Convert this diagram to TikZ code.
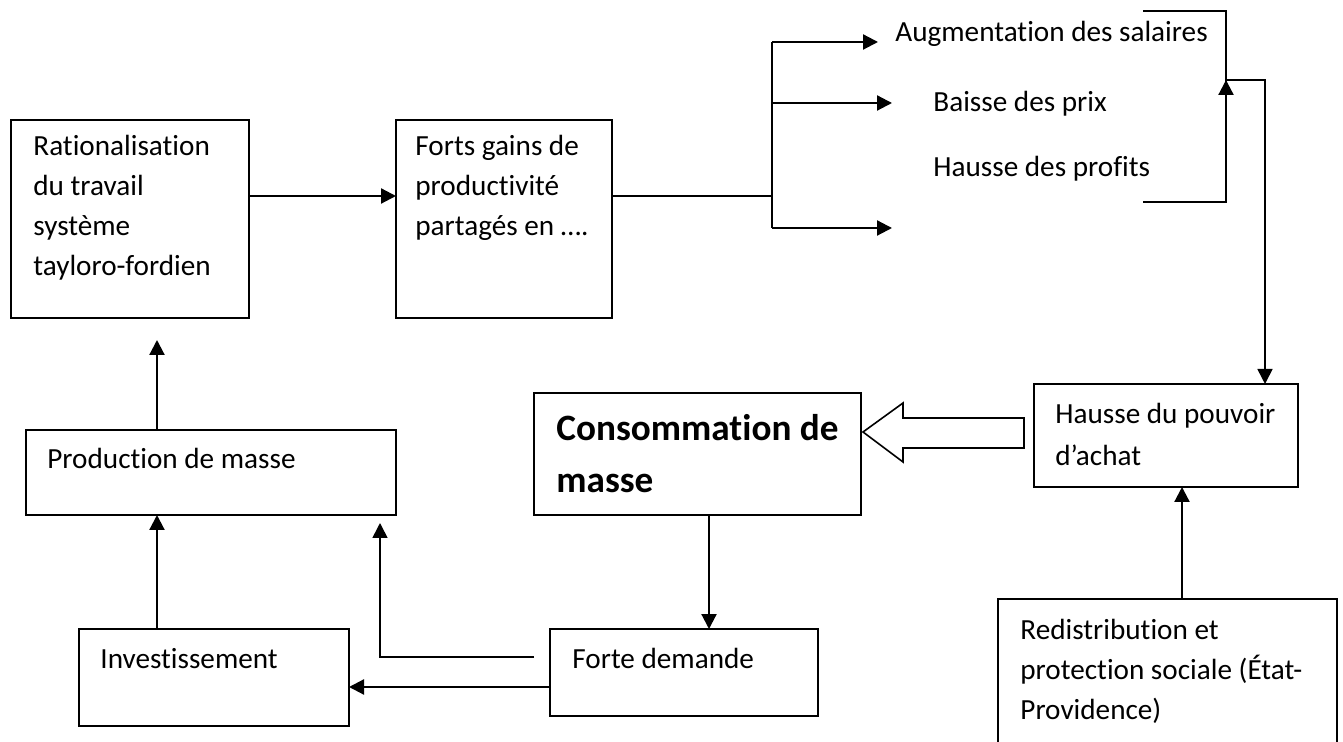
\documentclass[tikz,border=0pt]{standalone}
\usepackage{fontspec}
\setmainfont{Carlito}[Ligatures=NoCommon]
\usetikzlibrary{calc,arrows.meta}
\tikzset{
  box/.style={draw, line width=0.8pt, anchor=north west, inner sep=0pt, outer sep=0pt},
  txt/.style={anchor=base west, inner sep=0pt, align=left,
    font=\fontsize{14.6pt}{20pt}\selectfont},
  bigtxt/.style={txt, font=\bfseries\fontsize{18.6pt}{26pt}\selectfont},
  arr/.style={line width=1.1pt, -{Triangle[length=7.5pt,width=7.5pt]}},
  wire/.style={line width=1.1pt}
}

\begin{document}
\begin{tikzpicture}[x=0.5pt,y=-0.5pt]
  \clip (0,0) rectangle (1343,742);

  % boxes
  \node
  [box, minimum width=119pt, minimum height=99pt]
  (rat) at (11,120) {};

  \node
  [box, minimum width=108pt, minimum height=99pt]
  (gains) at (396,120) {};

  \node
  [box, minimum width=185pt, minimum height=42.5pt]
  (prod) at (26,430) {};

  \node
  [box, minimum width=135pt, minimum height=48.5pt]
  (inv) at (79,629) {};

  \node
  [box, minimum width=163.5pt, minimum height=61pt]
  (cons) at (534,393) {};

  \node
  [box, minimum width=134pt, minimum height=43.5pt]
  (forte) at (550,629) {};

  \node
  [box, minimum width=132pt, minimum height=51.5pt]
  (hausse) at (1034,384) {};

  \node
  [box, minimum width=169.5pt, minimum height=80.5pt]
  (redis) at (998,599) {};

  % texts (placed at the baseline of their last line)
  \node
  [txt]
  (rat-t) at (33,276) {Rationalisation\\du travail\\système\\tayloro-fordien};

  \node
  [txt]
  (gains-t) at (415,236) {Forts gains de\\productivité\\partagés en ….};

  \node
  [txt]
  (prod-t) at (47,469) {Production de masse};

  \node
  [txt]
  (inv-t) at (100,668) {Investissement};

  \node
  [bigtxt]
  (cons-t) at (556,493) {Consommation de\\masse};

  \node
  [txt]
  (forte-t) at (572,668) {Forte demande};

  \node
  [txt, font=\fontsize{14.6pt}{21pt}\selectfont]
  (hausse-t) at (1055,466) {Hausse du pouvoir\\d’achat};

  \node
  [txt]
  (redis-t) at (1020,719) {Redistribution et\\protection sociale (État-\\Providence)};

  \node
  [txt]
  (aug) at (895,42) {Augmentation des salaires};

  \node
  [txt]
  (baisse) at (933,112) {Baisse des prix};

  \node
  [txt]
  (profits) at (933,177) {Hausse des profits};

  % free ends
  \coordinate (split) at (772,196);
  \coordinate (fork1) at (772,42);
  \coordinate (fork3) at (772,228);
  \coordinate (tip1) at (878,42);
  \coordinate (tip2) at (892,103);
  \coordinate (tip3) at (892,228);
  \coordinate (brtop) at (1143,11);
  \coordinate (brbot) at (1143,202);
  \coordinate (join) at (1226,80);
  \coordinate (col) at (157,580);
  \coordinate (top-tip) at (157,340);
  \coordinate (d-start) at (534,657);
  \coordinate (d-tip) at (380,523);

  % connectors
  \draw
  [arr]
  (rat.east |- split) -- (gains.west |- split);

  \draw
  [wire]
  (gains.east |- split) -- (split);

  \draw
  [wire]
  (fork1) -- (fork3);

  \draw
  [arr]
  (fork1) -- (tip1);

  \draw
  [arr]
  (fork1 |- tip2) -- (tip2);

  \draw
  [arr]
  (fork3) -- (tip3);

  \draw
  [line width=0.8pt]
  (brtop) -| (brbot -| join) -- (brbot);

  \draw
  [arr]
  (brbot -| join) -- (join);

  \draw
  [arr, line width=0.8pt]
  (join) -| ([xshift=49.5pt]hausse.north);

  \draw
  [line width=0.8pt]
  (1024,418) -- (903,418) -- (903,403) -- (863,432)
  -- (903,462) -- (903,448) -- (1024,448) -- cycle;

  \draw
  [arr]
  ([xshift=7.25pt]redis.north) -- ([xshift=7.25pt]redis.north |- hausse.south);

  \draw
  [arr]
  ([xshift=5.75pt]cons.south) -- ([xshift=5.75pt]cons.south |- forte.north);

  \draw
  [arr]
  ([yshift=-7.25pt]forte.west) -- ([yshift=-7.25pt]forte.west -| inv.east);

  \draw
  [arr, line width=0.8pt]
  (d-start) -| (d-tip);

  \draw
  [arr]
  (inv.north -| col) -- (prod.south -| col);

  \draw
  [arr]
  (prod.north -| col) -- (top-tip);
\end{tikzpicture}
\end{document}
